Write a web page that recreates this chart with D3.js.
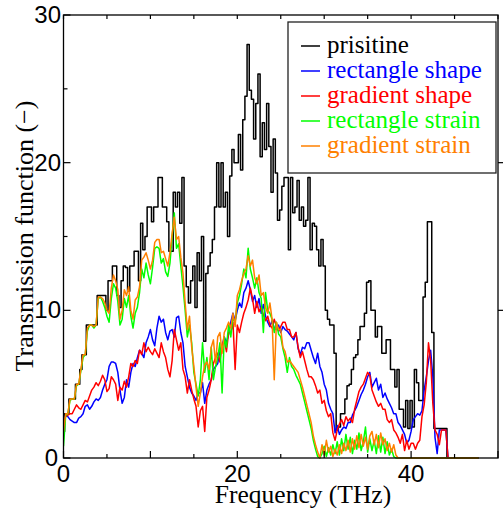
<!DOCTYPE html>
<html><head><meta charset="utf-8">
<script src="https://cdn.jsdelivr.net/npm/d3@7"></script>
<style>
body{margin:0;background:#fff}svg{display:block}
.serif{font-family:"Liberation Serif","Times New Roman",Times,"Nimbus Roman","DejaVu Serif",serif;}
.sans{font-family:"Liberation Sans",Arial,Helvetica,sans-serif;}
</style>
</head><body>
<svg id="c" width="503" height="508"></svg>
<script>
// Frequency grid (THz)
const freq = [
0,0.25,0.5,0.75, 1,1.25,1.5,1.75, 2,2.25,2.5,2.75, 3,3.25,3.5,3.75, 4,4.25,4.5,4.75,
5,5.25,5.5,5.75, 6,6.25,6.5,6.75, 7,7.25,7.5,7.75, 8,8.25,8.5,8.75, 9,9.25,9.5,9.75,
10,10.25,10.5,10.75, 11,11.25,11.5,11.75, 12,12.25,12.5,12.75, 13,13.25,13.5,13.75, 14,14.25,14.5,14.75,
15,15.25,15.5,15.75, 16,16.25,16.5,16.75, 17,17.25,17.5,17.75, 18,18.25,18.5,18.75, 19,19.25,19.5,19.75,
20,20.25,20.5,20.75, 21,21.25,21.5,21.75, 22,22.25,22.5,22.75, 23,23.25,23.5,23.75, 24,24.25,24.5,24.75,
25,25.25,25.5,25.75, 26,26.25,26.5,26.75, 27,27.25,27.5,27.75, 28,28.25,28.5,28.75, 29,29.25,29.5,29.75,
30,30.25,30.5,30.75, 31,31.25,31.5,31.75, 32,32.25,32.5,32.75, 33,33.25,33.5,33.75, 34,34.25,34.5,34.75,
35,35.25,35.5,35.75, 36,36.25,36.5,36.75, 37,37.25,37.5,37.75, 38,38.25,38.5,38.75, 39,39.25,39.5,39.75,
40,40.25,40.5,40.75, 41,41.25,41.5,41.75, 42,42.25,42.5,42.75, 43,43.25,43.5,43.75, 44,44.25,
47.75];

const pristine = [
1.8,3,3,4, 4,4,5,5, 6,7,7,9, 9,9,9,9, 11,11,11,11,
10,12,12,13, 13,11,10.2,12, 13,12.9,11.3,13, 13,14,14,12, 15.9,14.1,15,17,
17,16,17,17, 19,19,17,17, 16,14,14,18, 17,18,15.9,19, 13,11.6,10.5,12,
13,10.2,13.9,12, 15,7.9,12.5,13, 13.9,14.8,17,20, 17,20,17,18, 15,19.1,20.9,20,
20,21.9,19.5,22.9, 24.5,28,24.9,24.3, 21.6,24,26,20.4, 22.7,20.9,24,21.1, 18,21.6,19.3,16.1,
16.8,18.4,19,19, 14.1,19,16.6,17, 18.8,16.1,17,15.7, 16.1,19,14.1,15.9, 15.7,14.1,13,14.8,
13,10,9.4,9, 9,7.1,1.9,2.1, 3,3,4,4.9, 5,6,6.8,7, 8,8.9,8.9,9.8,
11.9,12,10,10, 8.2,8.9,8.9,7.1, 7.1,8,8,6, 6,4.8,6,3.3, 3.3,2.1,3.9,2,
3.9,2.1,6,5.1, 3.9,3.9,10.9,11.9, 16,16,8.5,2, 2,2,2,2, 2,0,
0];

const rectShape = [
2.5,2.9,2.8,2.6, 2.5,2.4,2.4,2.7, 2.8,3,3.5,3.6, 3.3,3.5,3.8,4, 3.9,4.1,4.6,5,
5.3,6.2,6.5,6.5, 6.4,5.8,4.6,3.7, 4.1,5.3,4.8,5.8, 6.4,6.2,6.8,7.3, 7.1,6.8,7.8,8.2,
8.7,8,7.6,8.8, 9.6,9.2,9.4,8.5, 8,8.6,8.7,8.2, 9.5,9.6,8.5,7.8, 6.2,5.5,4.8,4.4,
4.2,3.9,4.4,4.4, 5.1,3.7,4.6,5, 5.3,6,6.2,6.4, 7.3,7.6,8.2,7.8, 8.4,9.2,9.8,9.3,
10,10.5,10.2,11.2, 11.5,12,11.4,10.6, 11,10.2,10.8,9.8, 10.4,9.6,9.2,8.9, 9.3,8.8,8.7,9,
8.5,8.9,8.7,8.6, 8.4,8.2,8,8.5, 7.4,7,7.5,7.4, 7.8,7.8,7.3,6.8, 6.4,7.1,6.2,5.8,
5,4.6,3.7,3.3, 3,1.7,2.2,1.6, 1.9,2.1,2,2.4, 2.4,2.9,3.2,3.5, 3.9,4.3,4.6,5,
5.5,5.8,4.8,5.1, 5.4,4.6,5,4.1, 4.4,4,3.7,3.4, 3,3,2.4,2.2, 1.9,1.6,1,1.2,
1.8,2.6,2.8,3, 2.9,3.2,4.6,5.5, 6.6,7.3,5.5,1.4, 0.3,1.9,1.9,1.9, 1.9,0,
0];

const gradShape = [
2.5,2.8,2.9,3, 3,3.3,3.6,3.4, 3.3,3.6,3.9,3.8, 4.2,4.6,4.8,5.1, 4.9,5.2,5.6,5.3,
4.5,4.7,5.5,5.3, 5,3.9,4.8,4.6, 5.2,4.8,5.5,6.4, 6.2,6.6,6.4,7.3, 7,7.8,7.2,7.5,
7.2,7,7.4,7.1, 6.8,7.8,7.2,6.8, 6,5.5,6.6,8.7, 8,7.3,7.8,6, 5.5,4.4,5.3,4.6,
4,3.5,2.1,3.2, 3.5,1.8,4.1,4.6, 5.3,6.4,6.8,7.1, 6.5,7.6,8,7.2, 8.5,8.5,9.2,6,
9,8.5,9.2,9.8, 10.2,10.7,11.5,10.8, 9.8,10.6,9.9,10.2, 9.7,9.3,9.6,9, 8.8,9.4,8.9,8.6,
8.9,9.2,9.2,8.7, 8.7,8.2,8.2,8.5, 7.5,6.8,7.2,6.6, 6,5.5,5.5,5.3, 4.9,4.4,4.6,3.7,
3.9,3.2,2.8,3, 1.7,1.2,1.9,2.3, 2.6,2.2,2.8,2.5, 2.7,2.4,3.3,3.9, 4.5,4.8,5,5.4,
5.8,5.6,4.6,4.2, 3.8,3.5,3.7,3.3, 3.3,2.6,2.4,2.6, 1.9,1.7,1.4,1, 1.6,0.5,1.2,0.6,
1,1,0.6,1, 1.2,2.8,3.6,5.1, 7.8,6.6,3.7,1.9, 1.6,0.9,1.9,1.9, 1.9,0,
0];

const rectStrain = [
0.8,2.9,3,3.9, 4,4,4.9,5, 5.9,6.8,7,8.6, 9,9,8.8,9, 10.8,10.9,10.6,10.2,
9.6,9.2,10.8,11.8, 11.5,10.6,9,9.4, 10.8,10.2,11,9.6, 8.8,9.8,10.2,11.2, 12.8,12.2,13.2,12.4,
11.8,12.9,14.2,14.3, 14.2,13.2,13.5,12.6, 12.3,13.2,15,16.6, 14.2,14.5,13,11.6, 10,8.2,9,7.8,
5.8,5,4.2,5.3, 7.8,5.8,6.8,5.3, 7.5,5.3,6.2,6.8, 7.8,4.4,8.2,7.5, 9,8.2,9.5,9.2,
10.5,11,11.8,12.8, 12.2,14.2,12.8,12.2, 11.5,12.2,11.2,10.8, 8.5,11.2,10,9.8, 9.4,8.5,9.2,8.4,
8.2,7.4,6.8,5.8, 6.8,6.2,6,5.6, 5.3,5,4.4,3.8, 3.2,2.6,2,1.2, 0.6,0.1,0,0.3,
0.8,0.1,0.7,0.2, 0.9,0.3,1.1,0.2, 1.3,0.5,1.6,0.6, 1.4,0.3,1.2,0.6, 1.7,0.5,1.1,2.1,
0.4,1.3,0.5,1.2, 0.3,1.5,0.4,1.4, 0.3,1.1,0.2,0.6, 0.1,0,0,0, 0,0,0,0,
0,0,0,0, 0,0,0,0, 0,0,0,0, 0,0,0,0, 0,0,
0];

const gradStrain = [
1.8,3,3,4, 4,4,5,5, 6,7,7,8.8, 9,9,8.9,9, 10.9,10.9,10.8,10.5,
10,9.8,11.5,12.4, 12,11.4,9.4,10, 11.4,11,11.6,10, 9.4,10.7,10.9,11.6, 13.4,13.6,13.9,13.4,
12.8,13.4,14.6,14.8, 14.8,13.9,14,13.5, 13,13.9,15.2,16.3, 14.8,15,13.6,12.5, 10.5,8.7,9.6,7.5,
6.2,4.8,3.5,4.4, 5.5,6.3,6.5,6, 7.5,8,6.4,8.2, 8.5,7.1,8.5,8.8, 9.2,8.8,9.8,8.9,
11,11.4,12,12.5, 12.8,13.7,13,13.4, 12.2,11.8,12.4,11, 11.2,10.2,9.8,10.5, 9.4,5.3,9.2,8.7,
8.7,7.5,7.2,6.5, 6.6,6.4,6.2,6, 5.8,5.3,4.8,4.2, 3.6,3,2.4,1.5, 0.9,0.4,0,0.9,
0.2,1.2,0.4,0.8, 0.1,0.6,0.2,0.9, 0.3,1,0.5,1.2, 0.4,1.3,0.6,1.5, 0.7,1.6,0.8,1.4,
0.6,1.5,1.8,0.9, 1.6,0.7,1.7,0.9, 1.3,0.5,1,0.4, 0.9,0.2,0,0, 0,0,0,0,
0,0,0,0, 0,0,0,0, 0,0,0,0, 0,0,0,0, 0,0,
0];

const seriesNames = ["prisitine","rectangle shape","gradient shape","rectangle strain","gradient strain"];
const seriesColors = ["#000000","#0000ff","#ff0000","#00ff00","#ff8000"];
const seriesValues = [pristine, rectShape, gradShape, rectStrain, gradStrain];

const xMajor = [0,10,20,30,40,50];
const xMinor = [5,15,25,35,45];
const xLabels = [0,20,40];
const yMajor = [0,10,20,30];
const yMinor = [5,15,25];
const yLabels = [0,10,20,30];

const svg = d3.select("#c");
const L = 63.5, R = 498, T = 15, B = 458;
const x = d3.scaleLinear().domain([0,50]).range([L,R]);
const y = d3.scaleLinear().domain([0,30]).range([B,T]);

svg.append("defs").append("clipPath").attr("id","clip")
  .append("rect").attr("x",L).attr("y",T).attr("width",R-L).attr("height",B-T+1);

const g = svg.append("g").attr("clip-path","url(#clip)");
seriesValues.forEach((vals,i)=>{
  const pts = freq.map((f,j)=>[f, vals[j]]);
  const line = d3.line().x(d=>x(d[0])).y(d=>y(d[1]))
    .curve(i===0 ? d3.curveStep : d3.curveLinear);
  g.append("path").datum(pts)
    .attr("d", line)
    .attr("fill","none")
    .attr("stroke", seriesColors[i])
    .attr("stroke-width", 1.5)
    .attr("stroke-linejoin","round");
});

// frame
svg.append("rect").attr("x",L).attr("y",T).attr("width",R-L).attr("height",B-T)
  .attr("fill","none").attr("stroke","#000").attr("stroke-width",1.3);

const ax = svg.append("g").attr("stroke","#000").attr("stroke-width",1.2);
xMajor.forEach(v=>ax.append("line").attr("x1",x(v)).attr("x2",x(v)).attr("y1",B).attr("y2",B-7));
xMinor.forEach(v=>ax.append("line").attr("x1",x(v)).attr("x2",x(v)).attr("y1",B).attr("y2",B-4));
xMajor.concat(xMinor).forEach(v=>ax.append("line").attr("x1",x(v)).attr("x2",x(v)).attr("y1",T).attr("y2",T+4));
yMajor.forEach(v=>ax.append("line").attr("x1",L).attr("x2",L+7).attr("y1",y(v)).attr("y2",y(v)));
yMinor.forEach(v=>ax.append("line").attr("x1",L).attr("x2",L+4).attr("y1",y(v)).attr("y2",y(v)));
[10,20].forEach(v=>ax.append("line").attr("x1",R).attr("x2",R+5).attr("y1",y(v)).attr("y2",y(v)));

svg.append("g").selectAll("text").data(xLabels).join("text")
  .attr("class","sans")
  .attr("x",d=>x(d)).attr("y",482).attr("text-anchor","middle")
  .attr("font-size",24).text(d=>d);
svg.append("g").selectAll("text").data(yLabels).join("text")
  .attr("class","sans")
  .attr("x",d=>d===0?58:61).attr("y",d=>y(d)+8).attr("text-anchor","end")
  .attr("font-size",24).text(d=>d);

svg.append("text").attr("class","serif").attr("x",303).attr("y",503).attr("text-anchor","middle")
  .attr("font-size",25.5).text("Frequency (THz)");
svg.append("text").attr("class","serif").attr("transform","translate(33,236) rotate(-90)").attr("text-anchor","middle")
  .attr("font-size",26).text("Transmission function (\u2212)");

const lg = svg.append("g");
lg.append("rect").attr("x",288).attr("y",22).attr("width",208).attr("height",151)
  .attr("fill","#fff").attr("stroke","#222").attr("stroke-width",1.3);
seriesNames.forEach((n,i)=>{
  const by = 53 + 25*i;
  lg.append("line").attr("x1",301).attr("x2",320).attr("y1",by-7).attr("y2",by-7)
    .attr("stroke",seriesColors[i]).attr("stroke-width",1.5);
  lg.append("text").attr("class","serif").attr("x",327).attr("y",by).attr("font-size",25)
    .attr("fill",seriesColors[i]).text(n);
});
</script>
</body></html>
